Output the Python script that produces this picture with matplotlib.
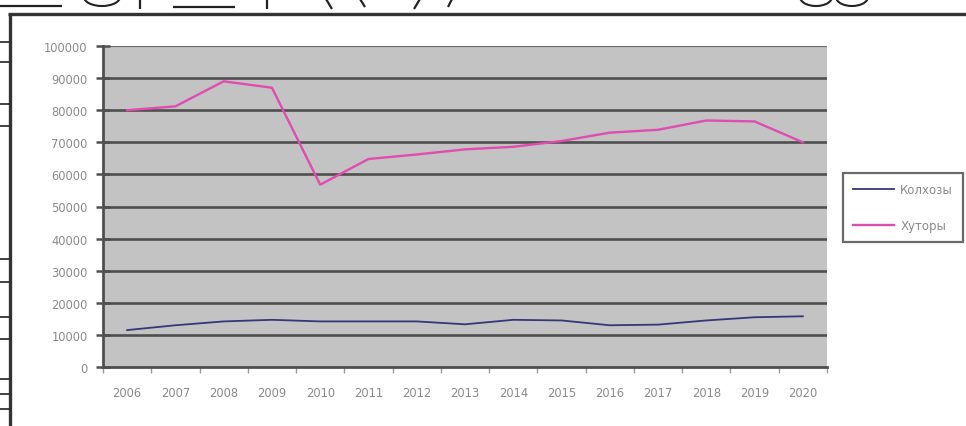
import matplotlib
matplotlib.use("Agg")
import matplotlib.pyplot as plt
from matplotlib.lines import Line2D
from matplotlib.patches import Ellipse
import numpy as np

# Categories and series
years = ["2006", "2007", "2008", "2009", "2010", "2011", "2012", "2013",
         "2014", "2015", "2016", "2017", "2018", "2019", "2020"]
kolkhozy = [11500, 13000, 14200, 14700, 14200, 14200, 14200, 13300,
            14700, 14500, 13000, 13200, 14500, 15500, 15800]
khutory = [80000, 81200, 89000, 87000, 56800, 64800, 66200, 67800,
           68600, 70400, 73000, 73900, 76800, 76500, 70000]
y_ticks = [0, 10000, 20000, 30000, 40000, 50000, 60000, 70000, 80000, 90000, 100000]
series_names = ["Колхозы", "Хуторы"]

W, H = 966, 427
fig = plt.figure(figsize=(W / 100, H / 100), dpi=100)
fig.patch.set_facecolor("white")

ax = fig.add_axes([103 / W, 1 - 368 / H, 724 / W, 321 / H])
x = np.arange(len(years))
ax.set_xlim(-0.5, len(years) - 0.5)
ax.set_ylim(0, y_ticks[-1])
ax.set_facecolor("#c3c3c3")

grid_c = "#4f4f4f"
for v in y_ticks[1:-1]:
    ax.axhline(v, color=grid_c, lw=1.9, zorder=1)
ax.axhline(y_ticks[-1], color="#6a6a6a", lw=1.6, zorder=1)

l1, = ax.plot(x, kolkhozy, color="#36367a", lw=1.3, zorder=3)
l2, = ax.plot(x, khutory, color="#e04cb0", lw=1.7, zorder=3)

ax.set_yticks(y_ticks)
ax.set_yticklabels([str(v) for v in y_ticks])
ax.tick_params(axis="y", direction="inout", length=10, width=1.8, color=grid_c,
               labelsize=8.3, labelcolor="#8a8a8a", pad=6)

ax.set_xticks(x)
ax.set_xticklabels(years)
ax.tick_params(axis="x", which="major", length=0, labelsize=8.3,
               labelcolor="#8a8a8a", pad=14)
ax.set_xticks(np.arange(-0.5, len(years)), minor=True)
ax.tick_params(axis="x", which="minor", length=4, direction="out",
               color="#9a9a9a", width=1)

for side in ("top", "right"):
    ax.spines[side].set_visible(False)
ax.spines["left"].set_color(grid_c)
ax.spines["left"].set_linewidth(2)
ax.spines["bottom"].set_color(grid_c)
ax.spines["bottom"].set_linewidth(2)

leg = fig.legend([l1, l2], series_names, loc="upper left",
                 bbox_to_anchor=(843 / W, 1 - 174 / H), frameon=True,
                 fancybox=False, edgecolor="#444444", fontsize=8.5,
                 labelcolor="#8a8a8a", handlelength=3.5, handletextpad=0.5,
                 labelspacing=1.95, borderpad=0.85, borderaxespad=0)
leg.get_frame().set_linewidth(1.6)


# Slide frame around the chart
def fline(xs, ys, lw=1.6, color="#222222"):
    fig.add_artist(Line2D([v / W for v in xs], [1 - v / H for v in ys],
                          color=color, lw=lw, solid_capstyle="butt"))


fline([8, W], [15, 15], lw=2.4, color="#333333")
fline([10, 10], [15, H], lw=2.4, color="#333333")
for yy in [43, 63, 105, 127, 260, 283, 318, 340, 380, 395, 410]:
    fline([0, 10], [yy, yy], lw=1.2)

# Lower edges of the title lettering above the frame
fline([0, 62], [7, 7])
fline([173, 235], [8, 8])
fline([140, 140], [0, 10])
fline([267, 267], [0, 10])
fline([326, 332], [0, 10])
fline([360, 365], [0, 8])
fline([420, 414], [0, 10])
fline([452, 448], [0, 8])
for cx, w in [(102, 36), (816, 32), (852, 32)]:
    fig.add_artist(Ellipse((cx / W, 1 - (-2) / H), w / W, 18 / H,
                           fill=False, edgecolor="#222222", lw=1.5))

fig.savefig("out.png", dpi=100, facecolor="white")
